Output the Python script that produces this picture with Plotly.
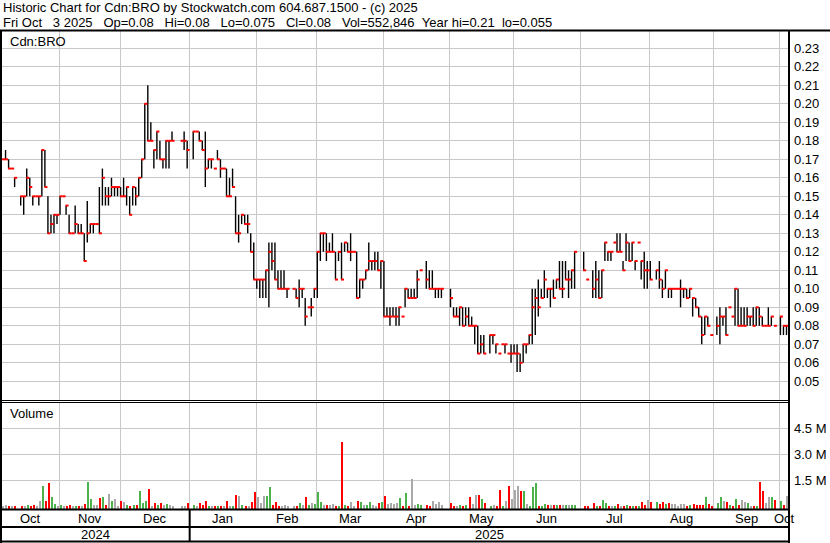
import plotly.graph_objects as go
import pandas as pd

W, H = 830, 543

# one slot per weekday (holidays / no-trade days are None in the series)
trade_days = pd.bdate_range("2024-10-07", "2025-10-03")

high = [0.17, 0.175, 0.17, 0.165, 0.16, None, 0.15, 0.15, 0.165, 0.16,
        0.15, 0.15, 0.15, 0.175, 0.175, 0.15, 0.14, 0.14, 0.14, 0.15,
        0.15, 0.145, 0.14, 0.13, 0.145, 0.135, 0.135, 0.13, 0.1475, 0.135,
        0.135, 0.135, 0.155, 0.165, 0.155, 0.155, 0.16, 0.155, 0.155, 0.155,
        0.16, 0.155, 0.15, 0.155, 0.155, 0.16, 0.17, 0.20, 0.21, 0.19,
        0.175, 0.185, 0.18, 0.17, 0.18, 0.18, 0.185, None, None, 0.18,
        0.185, 0.18, None, 0.185, 0.185, 0.185, 0.18, 0.185, 0.17, 0.17,
        0.165, 0.175, 0.17, 0.165, 0.165, 0.16, 0.165, 0.15, 0.14, 0.14,
        0.14, 0.14, 0.13, 0.125, 0.105, 0.105, 0.105, 0.11, 0.125, 0.125,
        0.125, 0.11, 0.11, 0.11, 0.10, None, 0.10, 0.10, 0.105, 0.10,
        0.095, 0.09, 0.095, 0.10, 0.12, 0.13, 0.13, 0.13, 0.125, 0.13,
        0.12, 0.12, 0.125, 0.125, 0.125, 0.13, 0.12, 0.12, 0.105, 0.105,
        0.11, 0.125, 0.115, 0.12, 0.12, 0.115, 0.115, 0.09, 0.09, 0.09,
        0.09, 0.09, 0.085, 0.10, 0.10, 0.10, 0.10, 0.11, 0.11, None,
        0.115, 0.11, 0.11, 0.10, 0.10, 0.10, None, None, 0.10, 0.09,
        0.09, 0.09, 0.09, 0.09, 0.09, 0.085, 0.08, 0.08, 0.075, 0.075,
        None, 0.075, 0.075, 0.07, 0.065, 0.07, 0.07, 0.065, 0.07, 0.07,
        0.07, 0.065, 0.07, 0.07, 0.075, 0.10, 0.10, 0.105, 0.10, 0.11,
        0.10, 0.10, 0.105, 0.105, 0.115, 0.115, 0.115, 0.11, 0.11, 0.12,
        None, None, 0.12, 0.105, None, 0.11, 0.115, 0.11, 0.11, 0.125,
        0.12, 0.12, 0.125, 0.13, 0.13, 0.115, 0.13, 0.125, 0.125, 0.115,
        0.125, 0.115, 0.12, 0.115, 0.115, None, 0.11, 0.115, 0.105, 0.11,
        0.10, 0.10, 0.10, 0.10, 0.105, 0.10, 0.10, 0.10, 0.095, 0.095,
        0.09, 0.085, 0.085, 0.085, 0.075, None, 0.085, 0.09, 0.085, 0.09,
        0.09, 0.085, 0.10, 0.10, 0.09, 0.09, 0.09, 0.085, 0.09, 0.09,
        0.09, 0.085, 0.08, 0.09, 0.085, 0.08, None, 0.085, 0.08, 0.08]

low = [0.17, 0.17, 0.165, 0.165, 0.155, None, 0.145, 0.14, 0.15, 0.15,
       0.145, 0.15, 0.145, 0.15, 0.155, 0.13, 0.13, 0.13, 0.135, 0.14,
       0.15, 0.14, 0.13, 0.13, 0.13, 0.13, 0.13, 0.115, 0.125, 0.13,
       0.13, 0.135, 0.13, 0.145, 0.145, 0.145, 0.15, 0.15, 0.15, 0.15,
       0.15, 0.145, 0.14, 0.145, 0.145, 0.15, 0.16, 0.17, 0.18, 0.18,
       0.165, 0.17, 0.17, 0.165, 0.165, 0.165, 0.18, None, None, 0.18,
       0.175, 0.165, None, 0.17, 0.185, 0.18, 0.175, 0.155, 0.165, 0.165,
       0.165, 0.17, 0.16, 0.165, 0.15, 0.15, 0.155, 0.13, 0.125, 0.135,
       0.135, 0.13, 0.12, 0.105, 0.10, 0.095, 0.095, 0.095, 0.09, 0.11,
       0.105, 0.10, 0.10, 0.10, 0.095, None, 0.10, 0.095, 0.09, 0.095,
       0.08, 0.09, 0.085, 0.095, 0.095, 0.115, 0.12, 0.115, 0.12, 0.12,
       0.105, 0.115, 0.105, 0.12, 0.12, 0.115, 0.12, 0.095, 0.095, 0.10,
       0.105, 0.11, 0.11, 0.11, 0.11, 0.10, 0.085, 0.085, 0.08, 0.085,
       0.08, 0.08, 0.085, 0.09, 0.095, 0.095, 0.095, 0.095, 0.11, None,
       0.10, 0.10, 0.10, 0.095, 0.095, 0.095, None, None, 0.09, 0.085,
       0.085, 0.08, 0.08, 0.08, 0.08, 0.08, 0.07, 0.065, 0.065, 0.065,
       None, 0.065, 0.07, 0.065, 0.065, 0.07, 0.065, 0.065, 0.06, 0.065,
       0.055, 0.055, 0.06, 0.065, 0.07, 0.07, 0.075, 0.085, 0.095, 0.095,
       0.095, 0.09, 0.095, 0.10, 0.10, 0.095, 0.105, 0.095, 0.10, 0.10,
       None, None, 0.11, 0.105, None, 0.095, 0.095, 0.095, 0.095, 0.115,
       0.115, 0.115, 0.125, 0.12, 0.12, 0.11, 0.115, 0.115, 0.115, 0.11,
       0.125, 0.105, 0.10, 0.10, 0.105, None, 0.105, 0.10, 0.095, 0.10,
       0.095, 0.095, 0.10, 0.10, 0.09, 0.095, 0.095, 0.095, 0.085, 0.09,
       0.085, 0.07, 0.075, 0.08, 0.075, None, 0.075, 0.07, 0.08, 0.075,
       0.09, 0.085, 0.08, 0.08, 0.08, 0.08, 0.08, 0.08, 0.08, 0.08,
       0.08, 0.08, 0.08, 0.08, 0.08, 0.08, None, 0.075, 0.075, 0.075]

close = [0.17, 0.17, 0.165, 0.165, 0.16, None, 0.15, 0.15, 0.16, 0.155,
         0.15, 0.15, 0.15, 0.175, 0.155, 0.13, 0.135, 0.14, 0.14, 0.15,
         0.15, 0.145, 0.13, 0.13, 0.135, 0.13, 0.13, 0.115, 0.13, 0.135,
         0.135, 0.135, 0.13, 0.16, 0.15, 0.15, 0.155, 0.155, 0.155, 0.15,
         0.15, 0.155, 0.14, 0.155, 0.15, 0.16, 0.17, 0.20, 0.18, 0.18,
         0.175, 0.185, 0.17, 0.17, 0.18, 0.18, 0.18, None, None, 0.18,
         0.18, 0.175, None, 0.185, 0.185, 0.18, 0.175, 0.165, 0.17, 0.17,
         0.165, 0.17, 0.165, 0.165, 0.15, 0.15, 0.155, 0.13, 0.13, 0.14,
         0.135, 0.135, 0.12, 0.105, 0.105, 0.105, 0.105, 0.11, 0.12, 0.115,
         0.105, 0.10, 0.10, 0.10, 0.10, None, 0.10, 0.095, 0.10, 0.10,
         0.085, 0.09, 0.09, 0.10, 0.12, 0.13, 0.13, 0.12, 0.12, 0.12,
         0.105, 0.12, 0.105, 0.125, 0.12, 0.12, 0.12, 0.095, 0.105, 0.105,
         0.11, 0.115, 0.115, 0.115, 0.11, 0.115, 0.085, 0.085, 0.085, 0.085,
         0.085, 0.09, 0.085, 0.10, 0.095, 0.095, 0.095, 0.105, 0.11, None,
         0.105, 0.10, 0.10, 0.10, 0.10, 0.10, None, None, 0.095, 0.085,
         0.085, 0.09, 0.08, 0.085, 0.08, 0.08, 0.08, 0.065, 0.07, 0.065,
         None, 0.075, 0.075, 0.07, 0.065, 0.07, 0.07, 0.065, 0.065, 0.065,
         0.065, 0.06, 0.07, 0.07, 0.075, 0.09, 0.095, 0.09, 0.095, 0.105,
         0.10, 0.10, 0.095, 0.105, 0.10, 0.10, 0.105, 0.105, 0.11, 0.12,
         None, None, 0.11, 0.105, None, 0.10, 0.105, 0.095, 0.11, 0.125,
         0.12, 0.12, 0.125, 0.12, 0.12, 0.11, 0.125, 0.115, 0.125, 0.115,
         0.125, 0.115, 0.11, 0.11, 0.105, None, 0.11, 0.105, 0.10, 0.11,
         0.10, 0.10, 0.10, 0.10, 0.10, 0.10, 0.095, 0.10, 0.095, 0.09,
         0.085, 0.075, 0.085, 0.08, 0.075, None, 0.08, 0.085, 0.085, 0.075,
         0.09, 0.085, 0.10, 0.08, 0.08, 0.08, 0.085, 0.085, 0.08, 0.09,
         0.085, 0.08, 0.08, 0.08, 0.085, 0.08, None, 0.085, 0.08, 0.08]

# daily volume, thousands of shares
volume_k = [20, 30, 20, 10, 20, None, 20, 10, 60, 20,
            30, 20, 290, 1150, 290, 1330, 520, 115, 20, 30,
            20, 20, 60, 10, 20, 20, 20, 115, 1380, 400,
            60, 60, 460, 520, 60, 690, 290, 400, 20, 290,
            230, 60, 20, 30, 30, 870, 170, 290, 980, 20,
            170, 60, 170, 30, 115, 30, 20, None, None, 10,
            10, 170, None, 60, 10, 170, 30, 290, 10, 20,
            10, 20, 20, 5, 290, 10, 10, 630, 580, 30,
            10, 20, 230, 810, 520, 170, 580, 580, 1100, 60,
            230, 10, 20, 30, 10, None, 10, 10, 170, 30,
            520, 30, 170, 115, 810, 230, 60, 60, 30, 115,
            20, 10, 3700, 60, 20, 230, 20, 290, 230, 60,
            30, 230, 30, 20, 170, 230, 580, 115, 170, 115,
            170, 460, 20, 750, 20, 1560, 30, 115, 60, None,
            60, 20, 290, 115, 230, 30, None, None, 170, 20,
            10, 60, 20, 60, 520, 115, 630, 630, 400, 170,
            None, 20, 30, 20, 920, 10, 290, 1150, 400, 920,
            1150, 870, 870, 115, 20, 1100, 1330, 10, 10, 115,
            30, 60, 30, 30, 30, 30, 60, 30, 60, 30,
            None, None, 10, 10, None, 170, 20, 20, 350, 170,
            20, 20, 10, 115, 10, 20, 60, 10, 20, 10,
            20, 230, 30, 350, 230, None, 230, 115, 230, 115,
            170, 115, 115, 20, 115, 115, 10, 60, 115, 60,
            30, 60, 520, 115, 20, None, 170, 520, 290, 230,
            60, 20, 400, 30, 350, 230, 170, 10, 10, 10,
            1380, 870, 170, 520, 520, 350, None, 290, 60, 553]

month_labels = ["Oct", "Nov", "Dec", "Jan", "Feb", "Mar", "Apr",
                "May", "Jun", "Jul", "Aug", "Sep", "Oct"]
year_labels = ["2024", "2025"]
price_ticks = [0.05, 0.06, 0.07, 0.08, 0.09, 0.10, 0.11, 0.12, 0.13, 0.14,
               0.15, 0.16, 0.17, 0.18, 0.19, 0.20, 0.21, 0.22, 0.23]
vol_ticks_m = [1.5, 3.0, 4.5]
vol_tick_text = ["1.5 M", "3.0 M", "4.5 M"]

SP2 = "\u00a0\u00a0"
SP3 = "\u00a0\u00a0\u00a0"
title_line1 = "Historic Chart for Cdn:BRO by Stockwatch.com 604.687.1500 - (c) 2025"
title_line2 = ("Fri Oct" + SP3 + "3 2025" + SP3 + "Op=0.08" + SP3 + "Hi=0.08" + SP3 +
               "Lo=0.075" + SP3 + "Cl=0.08" + SP3 + "Vol=552,846" + SP2 +
               "Year hi=0.21" + SP2 + "lo=0.055")

FONT = "Liberation Sans, Arial, sans-serif"
GRID = "#c8c8c8"
N = len(trade_days)


def px(x):
    return x / W


def py(y):
    return 1 - y / H


# month gridlines: at the last weekday slot on/before the 1st of each month
month_starts = pd.date_range("2024-11-01", "2025-10-01", freq="MS")
grid = [int((trade_days <= m).sum()) - 1 for m in month_starts]
bounds = [0] + grid + [N]
month_centers = [(bounds[i] + bounds[i + 1]) / 2 for i in range(len(bounds) - 1)]
jan_slot = grid[2]
year_centers = [(0 + jan_slot) / 2, (jan_slot + N) / 2]

# price bars
hl_x, hl_y, cx, cy = [], [], [], []
for i, (h, l, c) in enumerate(zip(high, low, close)):
    if c is None:
        continue
    if h > l:
        hl_x += [i + 0.17, i + 0.17, None]
        hl_y += [l, h, None]
    cx += [i, i + 1, None]
    cy += [c, c, None]

# volume bars coloured by close change
vmin = -0.173
bx, by, bc = [], [], []
prev = None
for i, (v, c) in enumerate(zip(volume_k, close)):
    if v is None or c is None:
        continue
    if prev is None or c == prev:
        col = "#a9a9a9"
    elif c > prev:
        col = "#4cb34c"
    else:
        col = "#ff0000"
    prev = c
    bx.append(i + 0.45)
    by.append(v / 1000 - vmin)
    bc.append(col)

fig = go.Figure()
fig.add_trace(go.Scatter(x=hl_x, y=hl_y, mode="lines",
                         line=dict(color="black", width=1.4),
                         xaxis="x", yaxis="y", hoverinfo="skip"))
fig.add_trace(go.Scatter(x=cx, y=cy, mode="lines",
                         line=dict(color="#ff0000", width=2),
                         xaxis="x", yaxis="y", hoverinfo="skip"))
fig.add_trace(go.Bar(x=bx, y=by, base=vmin, width=0.66,
                     marker=dict(color=bc, line=dict(width=0)),
                     xaxis="x2", yaxis="y2", hoverinfo="skip"))

xdom = [px(2), px(789)]
common_x = dict(range=[0, N], tickmode="array", tickvals=grid,
                showticklabels=False, showgrid=True, gridcolor=GRID,
                gridwidth=1, zeroline=False, showline=False, ticks="",
                fixedrange=True, domain=xdom)

fig.update_layout(
    width=W, height=H,
    margin=dict(l=0, r=0, t=0, b=0),
    paper_bgcolor="white", plot_bgcolor="white",
    showlegend=False, bargap=0,
    font=dict(family=FONT, size=13, color="black"),
    xaxis=dict(anchor="y", **common_x),
    xaxis2=dict(anchor="y2", matches="x", **common_x),
    yaxis=dict(domain=[py(400), py(31)], range=[0.03989, 0.23935],
               side="right", tickmode="array", tickvals=price_ticks,
               ticktext=[f"{t:.2f}" for t in price_ticks],
               showgrid=True, gridcolor=GRID, gridwidth=1, zeroline=False,
               ticks="", ticklabelstandoff=4, showline=False,
               tickfont=dict(size=13, family=FONT, color="black"),
               fixedrange=True),
    yaxis2=dict(domain=[py(509), py(403)], range=[vmin, 5.943],
                side="right", tickmode="array", tickvals=vol_ticks_m,
                ticktext=vol_tick_text, showgrid=True, gridcolor=GRID,
                gridwidth=1, zeroline=False, ticks="", ticklabelstandoff=4,
                showline=False,
                tickfont=dict(size=13, family=FONT, color="black"),
                fixedrange=True),
)

shapes = []


def hline(y, x0, x1, w=1):
    shapes.append(dict(type="line", xref="paper", yref="paper",
                       x0=px(x0), x1=px(x1), y0=py(y), y1=py(y),
                       line=dict(color="black", width=w)))


def vline(x, y0, y1, w=1):
    shapes.append(dict(type="line", xref="paper", yref="paper",
                       x0=px(x), x1=px(x), y0=py(y0), y1=py(y1),
                       line=dict(color="black", width=w)))


hline(30.5, 0, W, 2)
hline(400.5, 0, 789, 1)
hline(402.5, 0, 789, 1)
hline(509.5, 0, 789, 2)
hline(527, 0, 789, 2)
hline(541.5, 0, 789, 2)
vline(1, 30, 543, 2)
vline(789, 30, 543, 2)
shapes.append(dict(type="line", xref="x", yref="paper", x0=jan_slot, x1=jan_slot,
                   y0=py(509), y1=py(542), line=dict(color="black", width=2)))
fig.update_layout(shapes=shapes)

ann = []


def text(x, y, s, xref="paper", anchor="left", size=13):
    ann.append(dict(x=x, y=py(y), xref=xref, yref="paper", text=s,
                    showarrow=False, xanchor=anchor, yanchor="middle",
                    font=dict(family=FONT, size=size, color="black")))


text(px(1), 7.5, title_line1)
text(px(1), 22, title_line2)
text(px(8), 41, "Cdn:BRO")
text(px(8), 413.5, "Volume")
for lab, c in zip(month_labels, month_centers):
    text(c, 518, lab, xref="x", anchor="center")
for lab, c in zip(year_labels, year_centers):
    text(c, 534.5, lab, xref="x", anchor="center")
fig.update_layout(annotations=ann)

fig.write_html("out.html",
               config={"displayModeBar": False, "staticPlot": True},
               post_script="document.body.style.margin='0';"
                           "document.body.style.overflow='hidden';")
